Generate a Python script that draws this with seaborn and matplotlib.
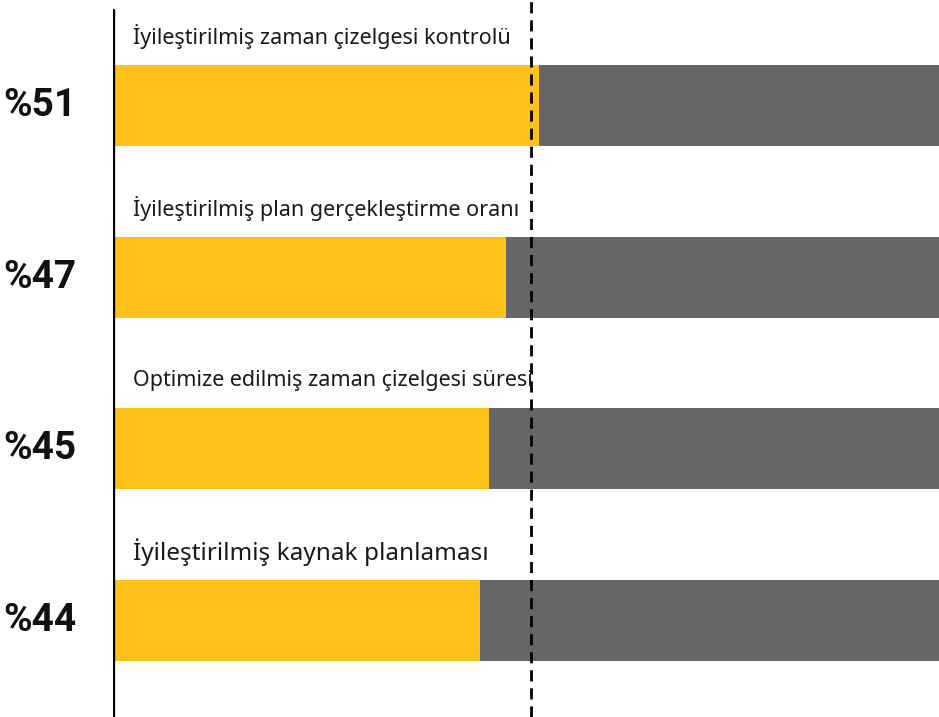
import matplotlib
matplotlib.use("Agg")
import matplotlib.pyplot as plt
import seaborn as sns
import pandas as pd

categories = [
    "İyileştirilmiş zaman çizelgesi kontrolü",
    "İyileştirilmiş plan gerçekleştirme oranı",
    "Optimize edilmiş zaman çizelgesi süresi",
    "İyileştirilmiş kaynak planlaması",
]
values = [51, 47, 45, 44]
totals = [100, 100, 100, 100]
pct_labels = ["%51", "%47", "%45", "%44"]
reference = 50

df = pd.DataFrame({"cat": categories, "value": values, "total": totals})

sns.set_theme(style="white")
plt.rcParams["font.family"] = ["Noto Sans", "DejaVu Sans"]

fig = plt.figure(figsize=(9.39, 7.17), dpi=100)
ax = fig.add_axes([113 / 939, 0, 1 - 113 / 939, 1])

sns.barplot(data=df, y="cat", x="total", orient="h", color="#666666",
            width=0.472, saturation=1, linewidth=0, ax=ax)
sns.barplot(data=df, y="cat", x="value", orient="h", color="#FDC11A",
            width=0.472, saturation=1, linewidth=0, ax=ax)

ax.set_xlim(0, 98.9)
ax.set_ylim(3.562, -0.615)
for s in ax.spines.values():
    s.set_visible(False)
ax.set_xticks([])
ax.set_yticks([])
ax.set_xlabel("")
ax.set_ylabel("")

ax.axvline(0, ymin=0, ymax=1 - 10 / 717, color="black", lw=2.4)
ax.axvline(reference, ymin=0, ymax=1, color="black", lw=2, ls=(0, (4, 2.5)))

for i, (cat, lab) in enumerate(zip(categories, pct_labels)):
    fs = 17.5 if i == 3 else 15.5
    ax.text(2.4, i - 0.40, cat, fontsize=fs, va="center", ha="left", color="#1a1a1a")
    fig.text(40 / 939, 1 - (105.5 + i * 171.67) / 717, lab, fontsize=28,
             fontweight="bold", ha="center", va="center", color="#111111",
             family=["Roboto", "DejaVu Sans"])

fig.savefig("out.png", dpi=100)
